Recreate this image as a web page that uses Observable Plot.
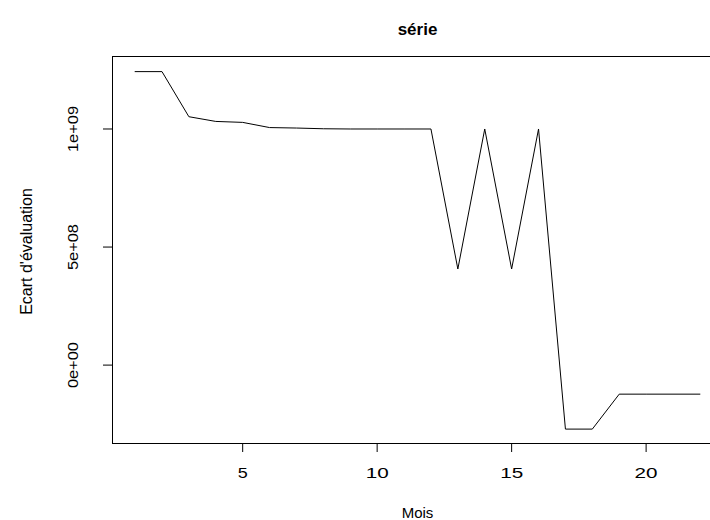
<!DOCTYPE html>
<html><head><meta charset="utf-8">
<script src="https://cdn.jsdelivr.net/npm/d3@7"></script>
<script src="https://cdn.jsdelivr.net/npm/@observablehq/plot@0.6"></script>
<style>
html,body{margin:0;padding:0;background:#fff;overflow:hidden;}
#chart svg{display:block;overflow:hidden;}
</style></head><body><div id="chart"></div>
<script>
const mois = [1,2,3,4,5,6,7,8,9,10,11,12,13,14,15,16,17,18,19,20,21,22];
const ecart = [1.243e9,1.243e9,1.052e9,1.032e9,1.028e9,1.006e9,1.004e9,1.001e9,1.0e9,1.0e9,1.0e9,1.0e9,
               0.407e9,1.0e9,0.407e9,1.0e9,-0.271e9,-0.271e9,-0.123e9,-0.123e9,-0.123e9,-0.123e9];
const xTicks = [5,10,15,20];
const yTicks = [0,5e8,1e9];
const yTickLabels = ["0e+00","5e+08","1e+09"];
const title = "série";
const xLabel = "Mois";
const yLabel = "Ecart d'évaluation";

const data = mois.map((m,i)=>({mois:m, ecart:ecart[i]}));
const font = '"Liberation Sans", Arial, Helvetica, sans-serif';

const plot = Plot.plot({
  width:710, height:520,
  marginLeft:112, marginRight:-12, marginTop:56, marginBottom:77,
  style:{fontFamily:font, background:"#fff", color:"#000", overflow:"hidden"},
  x:{domain:[0.16,22.84]},
  y:{domain:[-0.332e9,1.307e9]},
  marks:[
    Plot.frame({stroke:"#000"}),
    Plot.axisX({ticks:xTicks, tickSize:9, tickPadding:16, fontSize:14, label:null}),
    Plot.axisY({ticks:yTicks, tickFormat:d=>yTickLabels[yTicks.indexOf(d)], tickRotate:-90, tickSize:9, tickPadding:26, fontSize:14, label:null}),
    Plot.line(data,{x:"mois",y:"ecart",stroke:"#000",strokeWidth:1}),
    Plot.text([title],{text:d=>d, frameAnchor:"top", dy:-22, lineAnchor:"bottom", fontWeight:"bold", fontSize:17, ariaLabel:"title"}),
    Plot.text([xLabel],{text:d=>d, frameAnchor:"bottom", dy:74, lineAnchor:"bottom", fontSize:15, ariaLabel:"xlabel"}),
    Plot.text([yLabel],{text:d=>d, frameAnchor:"left", dx:-81, dy:1.5, rotate:-90, textAnchor:"middle", lineAnchor:"bottom", fontSize:16, ariaLabel:"ylabel"})
  ]
});
document.getElementById("chart").appendChild(plot);

function stretch(sel, fn){
  plot.querySelectorAll(sel).forEach(t=>{
    t.setAttribute("textLength", fn(t.textContent));
    t.setAttribute("lengthAdjust","spacingAndGlyphs");
  });
}
stretch('g[aria-label="x-axis tick label"] text', s=>s.length===1?10:23);
stretch('g[aria-label="y-axis tick label"] text', ()=>46);
stretch('g[aria-label="title"] text', ()=>62);
stretch('g[aria-label="xlabel"] text', ()=>44);
stretch('g[aria-label="ylabel"] text', ()=>131);
</script></body></html>
